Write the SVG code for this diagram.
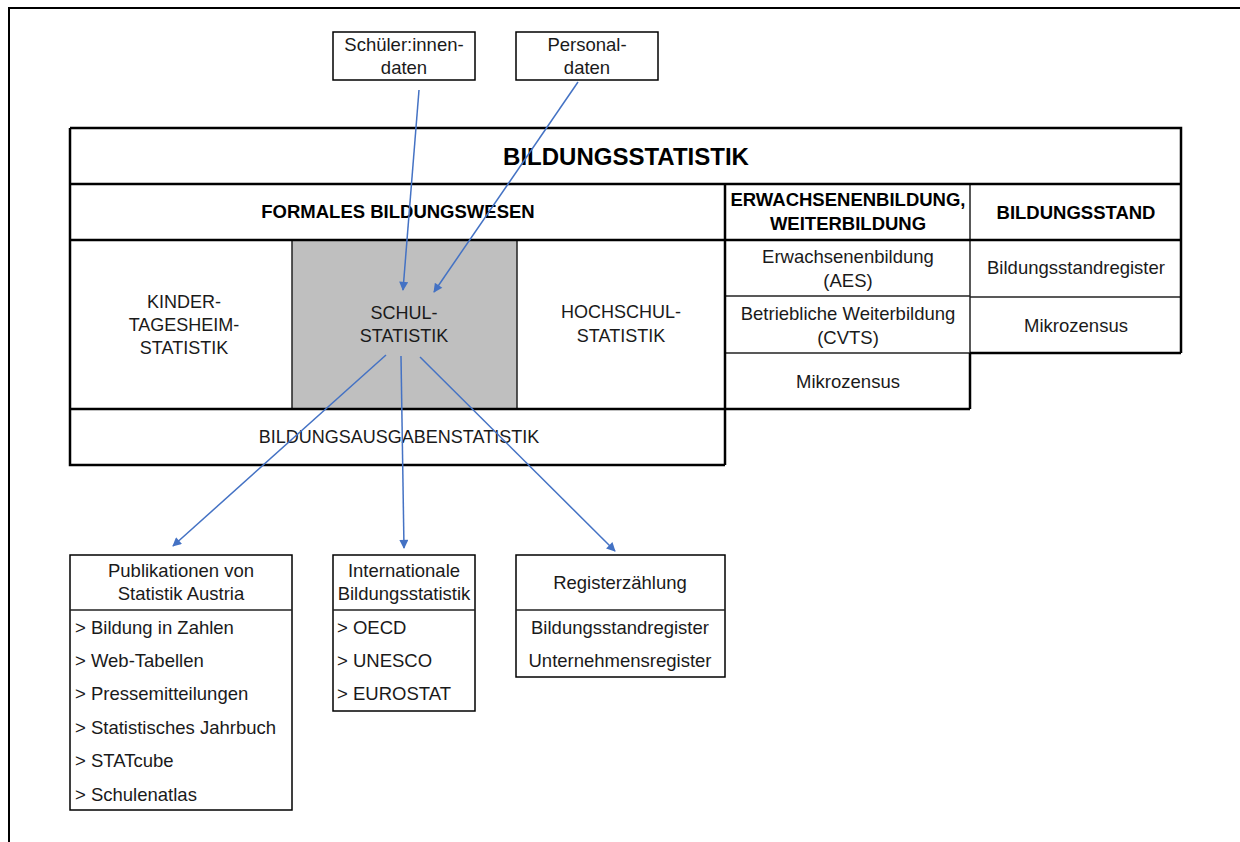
<svg xmlns="http://www.w3.org/2000/svg" width="1240" height="842" viewBox="0 0 1240 842">
<style>
text{font-family:"Liberation Sans",Arial,sans-serif;font-size:18.5px;fill:#1a1a1a}
.c{text-anchor:middle}
.u{font-size:18px}
.b{font-weight:bold;fill:#000}
.box{fill:#fff;stroke:#000;stroke-width:1.5}
.thin{stroke:#222;stroke-width:1.5;fill:none}
.thick{stroke:#000;stroke-width:2.5;fill:none}
.conn{stroke:#4472C4;stroke-width:1.5;fill:none;marker-end:url(#ah)}
</style>
<defs>
<marker id="ah" viewBox="0 0 10 10" refX="9" refY="5" markerWidth="10" markerHeight="9" markerUnits="userSpaceOnUse" orient="auto"><path d="M0,0 L10,5 L0,10 z" fill="#4472C4"/></marker>
</defs>
<rect width="1240" height="842" fill="#fff"/>
<rect x="9" y="8" width="1300" height="900" fill="none" stroke="#000" stroke-width="2"/>

<g id="schueler">
<rect class="box" x="333" y="32" width="142" height="48"/>
<text class="c" x="404" y="51">Schüler:innen-</text>
<text class="c" x="404" y="74">daten</text>
</g>
<g id="personal">
<rect class="box" x="516" y="32" width="142" height="48"/>
<text class="c" x="587" y="51">Personal-</text>
<text class="c" x="587" y="74">daten</text>
</g>

<g id="bildungsstatistik">
<rect x="70" y="128" width="1111" height="56" fill="#fff"/>
<text class="c b" x="626" y="165" style="font-size:24px">BILDUNGSSTATISTIK</text>
</g>
<g id="formales">
<text class="c b" x="398" y="218">FORMALES BILDUNGSWESEN</text>
</g>
<g id="erwachsenen-head">
<text class="c b" x="848" y="206">ERWACHSENENBILDUNG,</text>
<text class="c b" x="848" y="230">WEITERBILDUNG</text>
</g>
<g id="bildungsstand-head">
<text class="c b" x="1076" y="219">BILDUNGSSTAND</text>
</g>
<g id="kinder">
<text class="c u" x="184" y="308">KINDER-</text>
<text class="c u" x="184" y="331">TAGESHEIM-</text>
<text class="c u" x="184" y="354">STATISTIK</text>
</g>
<g id="schul">
<rect x="292" y="240" width="225" height="169" fill="#bfbfbf"/>
<text class="c u" x="404" y="319">SCHUL-</text>
<text class="c u" x="404" y="342">STATISTIK</text>
</g>
<g id="hochschul">
<text class="c u" x="621" y="318">HOCHSCHUL-</text>
<text class="c u" x="621" y="342">STATISTIK</text>
</g>
<g id="ausgaben">
<text class="c u" x="399" y="443">BILDUNGSAUSGABENSTATISTIK</text>
</g>
<g id="aes">
<text class="c" x="848" y="263">Erwachsenenbildung</text>
<text class="c" x="848" y="287">(AES)</text>
</g>
<g id="cvts">
<text class="c" x="848" y="320">Betriebliche Weiterbildung</text>
<text class="c" x="848" y="344">(CVTS)</text>
</g>
<g id="mikro1">
<text class="c" x="848" y="388">Mikrozensus</text>
</g>
<g id="bsr">
<text class="c" x="1076" y="274">Bildungsstandregister</text>
</g>
<g id="mikro2">
<text class="c" x="1076" y="332">Mikrozensus</text>
</g>

<g id="table-lines">
<line class="thin" x1="292" y1="240" x2="292" y2="409"/>
<line class="thin" x1="517" y1="240" x2="517" y2="409"/>
<line class="thin" x1="725" y1="296" x2="970" y2="296"/>
<line class="thin" x1="725" y1="353" x2="970" y2="353"/>
<line class="thin" x1="970" y1="297" x2="1181" y2="297"/>
<line class="thin" x1="970" y1="184" x2="970" y2="353"/>
<line class="thick" x1="70" y1="184" x2="1181" y2="184"/>
<line class="thick" x1="70" y1="240" x2="1181" y2="240"/>
<line class="thick" x1="70" y1="409" x2="970" y2="409"/>
<line class="thick" x1="725" y1="184" x2="725" y2="465"/>
<line class="thick" x1="970" y1="353" x2="970" y2="409"/>
<line class="thick" x1="970" y1="353" x2="1181" y2="353"/>
<path class="thick" d="M70,128 H1181 V353 M70,128 V465 H725"/>
</g>

<g id="publikationen">
<rect class="box" x="70" y="555" width="222" height="255"/>
<line class="thin" x1="70" y1="610" x2="292" y2="610"/>
<text class="c" x="181" y="577">Publikationen von</text>
<text class="c" x="181" y="600">Statistik Austria</text>
<text x="75" y="634">&gt; Bildung in Zahlen</text>
<text x="75" y="667">&gt; Web-Tabellen</text>
<text x="75" y="700">&gt; Pressemitteilungen</text>
<text x="75" y="734">&gt; Statistisches Jahrbuch</text>
<text x="75" y="767">&gt; STATcube</text>
<text x="75" y="801">&gt; Schulenatlas</text>
</g>
<g id="international">
<rect class="box" x="333" y="555" width="142" height="156"/>
<line class="thin" x1="333" y1="610" x2="475" y2="610"/>
<text class="c" x="404" y="577">Internationale</text>
<text class="c" x="404" y="600">Bildungsstatistik</text>
<text x="337" y="634">&gt; OECD</text>
<text x="337" y="667">&gt; UNESCO</text>
<text x="337" y="700">&gt; EUROSTAT</text>
</g>
<g id="register">
<rect class="box" x="516" y="555" width="209" height="122"/>
<line class="thin" x1="516" y1="610" x2="725" y2="610"/>
<text class="c" x="620" y="589">Registerzählung</text>
<text class="c" x="620" y="634">Bildungsstandregister</text>
<text class="c" x="620" y="667">Unternehmensregister</text>
</g>

<g id="connectors">
<line class="conn" x1="419" y1="90" x2="403" y2="290"/>
<line class="conn" x1="578" y1="82" x2="434" y2="292"/>
<line class="conn" x1="386" y1="355" x2="173" y2="546"/>
<line class="conn" x1="401" y1="356" x2="404" y2="548"/>
<line class="conn" x1="420" y1="357" x2="615" y2="551"/>
</g>
</svg>
